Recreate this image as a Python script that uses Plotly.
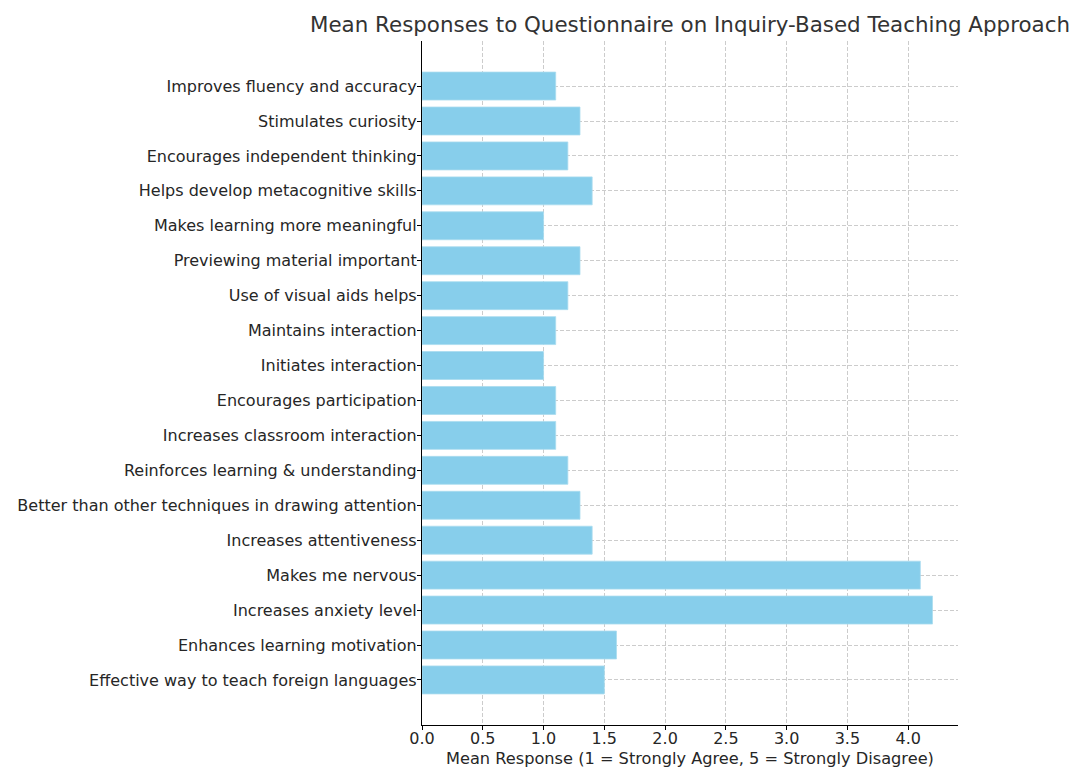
import plotly.graph_objects as go

categories = [
    "Improves fluency and accuracy",
    "Stimulates curiosity",
    "Encourages independent thinking",
    "Helps develop metacognitive skills",
    "Makes learning more meaningful",
    "Previewing material important",
    "Use of visual aids helps",
    "Maintains interaction",
    "Initiates interaction",
    "Encourages participation",
    "Increases classroom interaction",
    "Reinforces learning & understanding",
    "Better than other techniques in drawing attention",
    "Increases attentiveness",
    "Makes me nervous",
    "Increases anxiety level",
    "Enhances learning motivation",
    "Effective way to teach foreign languages",
]
values = [1.1, 1.3, 1.2, 1.4, 1.0, 1.3, 1.2, 1.1, 1.0, 1.1, 1.1, 1.2, 1.3, 1.4, 4.1, 4.2, 1.6, 1.5]
x_title = "Mean Response (1 = Strongly Agree, 5 = Strongly Disagree)"
chart_title = "Mean Responses to Questionnaire on Inquiry-Based Teaching Approach"

# bottom-to-top order for plotting
cats_plot = categories[::-1]
vals_plot = values[::-1]

fig = go.Figure(go.Bar(
    x=vals_plot,
    y=list(range(len(cats_plot))),
    orientation="h",
    width=0.8,
    marker=dict(color="#87CEEB", line=dict(color="#a9dcef", width=0.8)),
    hoverinfo="skip",
))

n = len(cats_plot)
# page body has an 8px default margin; figure sized to fit the viewport
W, H = 1070, 759
L, R, T, B = 414, 120, 33, 42
fig.update_layout(
    width=W, height=H,
    margin=dict(l=L, r=R, t=T, b=B, autoexpand=False),
    paper_bgcolor="white", plot_bgcolor="white",
    font=dict(family="DejaVu Sans", size=16, color="#262626"),
    title=dict(
        text=chart_title,
        x=(L + (W - R)) / 2 / W, xanchor="center",
        y=1 - 17 / H, yanchor="middle",
        font=dict(size=21.4, color="#333333"),
    ),
    showlegend=False,
    xaxis=dict(
        range=[0, 4.41],
        dtick=0.5, tick0=0, tickformat=".1f",
        showgrid=True, gridcolor="#cccccc", griddash="4px,2px", gridwidth=0.8,
        showline=True, linecolor="black", linewidth=1.2,
        ticks="outside", ticklen=4, tickcolor="black",
        ticklabelstandoff=-5,
        zeroline=False, automargin=False,
    ),
    yaxis=dict(
        range=[-1.29, n - 1 + 1.29],
        tickmode="array",
        tickvals=list(range(n)),
        ticktext=cats_plot,
        showgrid=True, gridcolor="#cccccc", griddash="4px,2px", gridwidth=0.8,
        showline=True, linecolor="black", linewidth=1.2,
        ticks="outside", ticklen=4, tickcolor="black",
        ticklabelstandoff=-3,
        zeroline=False, automargin=False,
    ),
    annotations=[dict(
        text=x_title, xref="paper", yref="paper",
        x=0.5, y=0, xanchor="center", yanchor="top",
        yshift=-22, showarrow=False,
        font=dict(size=16.2, color="#262626"),
    )],
)

fig.write_html("out.html")
